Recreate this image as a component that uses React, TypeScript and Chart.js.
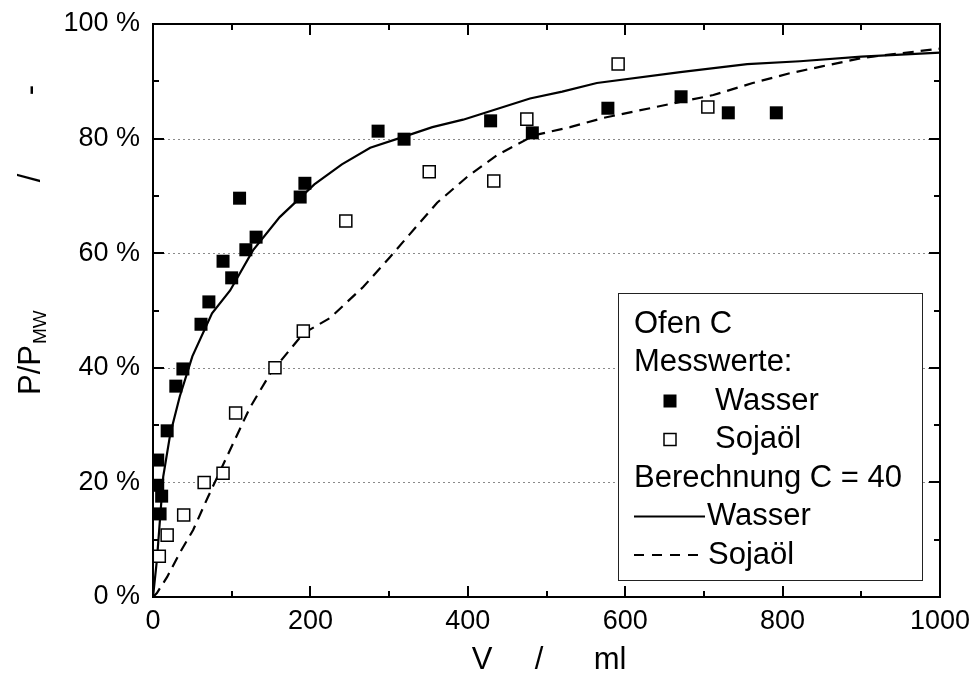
import React, { useEffect, useRef } from "react";
import { Chart, registerables } from "chart.js";

Chart.register(...registerables);

// ---- data ----
const wasserV = [6, 6, 9, 11, 18, 29, 38, 61, 71, 89, 100, 110, 118, 131, 187, 193, 286, 319, 429, 482, 578, 671, 731, 792];
const wasserP = [23.9, 19.5, 14.5, 17.6, 29, 36.8, 39.8, 47.6, 51.5, 58.6, 55.7, 69.6, 60.6, 62.8, 69.8, 72.2, 81.3, 79.9, 83.1, 81, 85.3, 87.3, 84.5, 84.5];

const sojaV = [8, 18, 39, 65, 89, 105, 155, 191, 245, 351, 433, 475, 591, 705];
const sojaP = [7.1, 10.8, 14.3, 20, 21.6, 32.1, 40, 46.4, 65.6, 74.2, 72.6, 83.4, 93, 85.5];

const calcWasserV = [0, 5, 13, 22, 34, 50, 75, 98, 127, 161, 205, 240, 276, 318, 355, 394, 415, 479, 520, 564, 670, 755, 822, 900, 1000];
const calcWasserP = [0, 6.5, 21, 28.5, 35, 42, 49.5, 53.5, 60.5, 66.3, 72, 75.5, 78.4, 80.3, 82, 83.3, 84.2, 87.0, 88.2, 89.7, 91.6, 93, 93.5, 94.3, 95];

const calcSojaV = [0, 5, 18, 34, 51, 70, 97, 123, 149, 191, 225, 267, 301, 323, 361, 399, 437, 485, 530, 572, 670, 712, 762, 809, 850, 902, 1000];
const calcSojaP = [0, 0.7, 3.5, 7.7, 11.7, 17.5, 25.4, 33, 39, 46, 48.7, 54.1, 59.3, 62.8, 68.8, 73.3, 77.1, 80.6, 82, 83.6, 86.4, 87.6, 89.7, 91.4, 92.6, 94.1, 95.7];

const gridLevels = [20, 40, 60, 80];
const legendTitle = "Ofen C";
const legendMeasured = "Messwerte:";
const legendCalc = "Berechnung C = 40";
const seriesWasser = "Wasser";
const seriesSoja = "Sojaöl";
const xTitleParts = ["V", "/", "ml"];

const FONT = "'Liberation Sans', Arial, Helvetica, sans-serif";
const DASH = [11, 7];

const pts = (xs: number[], ys: number[]) => xs.map((x, i) => ({ x, y: ys[i] }));

const decor = {
  id: "decor",
  beforeDatasetsDraw(chart: any) {
    const { ctx, chartArea: a, scales } = chart;
    const y = scales.y;
    ctx.save();
    ctx.strokeStyle = "#8a8a8a";
    ctx.lineWidth = 1;
    ctx.setLineDash([2, 3]);
    for (const v of gridLevels) {
      const py = Math.round(y.getPixelForValue(v)) + 0.5;
      ctx.beginPath();
      ctx.moveTo(a.left, py);
      ctx.lineTo(a.right, py);
      ctx.stroke();
    }
    ctx.restore();
  },
  afterDatasetsDraw(chart: any) {
    const { ctx, chartArea: a, scales } = chart;
    const x = scales.x;
    const y = scales.y;
    ctx.save();
    // frame
    ctx.strokeStyle = "#000";
    ctx.lineWidth = 2;
    ctx.setLineDash([]);
    ctx.strokeRect(a.left, a.top, a.right - a.left, a.bottom - a.top);
    // inward ticks
    for (let v = 0; v <= 1000; v += 100) {
      const major = v % 200 === 0;
      const len = major ? 11 : 6;
      const px = Math.round(x.getPixelForValue(v));
      ctx.beginPath();
      ctx.moveTo(px, a.bottom);
      ctx.lineTo(px, a.bottom - len);
      ctx.moveTo(px, a.top);
      ctx.lineTo(px, a.top + len);
      ctx.stroke();
    }
    for (let v = 0; v <= 100; v += 10) {
      const major = v % 20 === 0;
      const len = major ? 11 : 6;
      const py = Math.round(y.getPixelForValue(v));
      ctx.beginPath();
      ctx.moveTo(a.left, py);
      ctx.lineTo(a.left + len, py);
      ctx.moveTo(a.right, py);
      ctx.lineTo(a.right - len, py);
      ctx.stroke();
    }

    // legend box
    const bl = a.right - 322;
    const br = a.right - 18;
    const bt = a.top + 269;
    const bb = a.bottom - 17;
    ctx.fillStyle = "#fff";
    ctx.fillRect(bl, bt, br - bl, bb - bt);
    ctx.strokeStyle = "#222";
    ctx.lineWidth = 1;
    ctx.strokeRect(bl + 0.5, bt + 0.5, br - bl, bb - bt);

    ctx.fillStyle = "#000";
    ctx.font = `31px ${FONT}`;
    ctx.textBaseline = "middle";
    ctx.textAlign = "left";
    const row = (i: number) => bt + 31 + i * 38.5;
    ctx.fillText(legendTitle, bl + 16, row(0));
    ctx.fillText(legendMeasured, bl + 16, row(1));
    // filled marker
    ctx.fillRect(bl + 52 - 6.5, row(2) - 6.5, 13, 13);
    ctx.fillText(seriesWasser, bl + 97, row(2));
    // open marker
    ctx.fillStyle = "#fff";
    ctx.fillRect(bl + 52 - 6, row(3) - 6, 12, 12);
    ctx.strokeStyle = "#000";
    ctx.lineWidth = 1.5;
    ctx.strokeRect(bl + 52 - 6, row(3) - 6, 12, 12);
    ctx.fillStyle = "#000";
    ctx.fillText(seriesSoja, bl + 97, row(3));
    ctx.fillText(legendCalc, bl + 16, row(4));
    // line samples
    ctx.lineWidth = 2;
    ctx.beginPath();
    ctx.moveTo(bl + 16, row(5));
    ctx.lineTo(bl + 87, row(5));
    ctx.stroke();
    ctx.fillText(seriesWasser, bl + 89, row(5));
    ctx.setLineDash([10, 8]);
    ctx.beginPath();
    ctx.moveTo(bl + 16, row(6));
    ctx.lineTo(bl + 87, row(6));
    ctx.stroke();
    ctx.setLineDash([]);
    ctx.fillText(seriesSoja, bl + 90, row(6));

    // x title
    ctx.font = `31px ${FONT}`;
    ctx.textAlign = "center";
    ctx.textBaseline = "middle";
    const ty = a.bottom + 63;
    ctx.fillText(xTitleParts[0], a.left + 329, ty);
    ctx.fillText(xTitleParts[1], a.left + 386, ty);
    ctx.fillText(xTitleParts[2], a.left + 457, ty);

    // y title (rotated)
    ctx.save();
    ctx.translate(31, a.bottom - 202);
    ctx.rotate(-Math.PI / 2);
    ctx.textAlign = "left";
    ctx.textBaseline = "middle";
    ctx.font = `31px ${FONT}`;
    ctx.fillText("P/P", 0, 0);
    const w = ctx.measureText("P/P").width;
    ctx.font = `19px ${FONT}`;
    ctx.fillText("MW", w + 1, 10);
    ctx.font = `31px ${FONT}`;
    ctx.textAlign = "center";
    ctx.fillText("/", 217, 0);
    ctx.fillText("-", 305, 0);
    ctx.restore();

    ctx.restore();
  },
};

export default function App() {
  const ref = useRef<HTMLCanvasElement | null>(null);
  useEffect(() => {
    if (!ref.current) return;
    const chart = new Chart(ref.current, {
      type: "scatter",
      data: {
        datasets: [
          {
            label: "Wasser (Messwerte)",
            data: pts(wasserV, wasserP),
            pointStyle: "rect",
            pointRadius: 9.2,
            pointBackgroundColor: "#000",
            pointBorderColor: "#000",
            pointBorderWidth: 0,
            showLine: false,
            order: 1,
          },
          {
            label: "Sojaöl (Messwerte)",
            data: pts(sojaV, sojaP),
            pointStyle: "rect",
            pointRadius: 8.5,
            pointBackgroundColor: "#fff",
            pointBorderColor: "#000",
            pointBorderWidth: 1.5,
            showLine: false,
            order: 1,
          },
          {
            label: "Wasser (Berechnung)",
            data: pts(calcWasserV, calcWasserP),
            showLine: true,
            borderColor: "#000",
            borderWidth: 2.2,
            pointRadius: 0,
            tension: 0,
            fill: false,
            order: 2,
          },
          {
            label: "Sojaöl (Berechnung)",
            data: pts(calcSojaV, calcSojaP),
            showLine: true,
            borderColor: "#000",
            borderWidth: 2.2,
            borderDash: DASH,
            pointRadius: 0,
            tension: 0,
            fill: false,
            order: 2,
          },
        ],
      },
      options: {
        animation: false,
        responsive: false,
        maintainAspectRatio: false,
        events: [],
        layout: { padding: { top: 24, right: 34, left: 0, bottom: 0 } },
        plugins: {
          legend: { display: false },
          tooltip: { enabled: false },
          title: { display: false },
        },
        scales: {
          x: {
            type: "linear",
            min: 0,
            max: 1000,
            grid: { display: false, drawTicks: false },
            border: { display: false },
            ticks: {
              stepSize: 200,
              padding: 8,
              color: "#000",
              font: { family: FONT, size: 27 },
              maxRotation: 0,
              callback: (v: any) => String(v),
            },
            afterFit: (s: any) => {
              s.height = 87;
              s.paddingLeft = 0;
              s.paddingRight = 0;
            },
          },
          y: {
            type: "linear",
            min: 0,
            max: 100,
            grid: { display: false, drawTicks: false },
            border: { display: false },
            ticks: {
              stepSize: 20,
              padding: 13,
              color: "#000",
              font: { family: FONT, size: 27 },
              callback: (v: any) => `${v} %`,
            },
            afterFit: (s: any) => {
              s.width = 153;
              s.paddingTop = 0;
              s.paddingBottom = 0;
            },
          },
        },
      },
      plugins: [decor],
    } as any);
    return () => chart.destroy();
  }, []);
  return (
    <canvas
      ref={ref}
      width={974}
      height={684}
      style={{ position: "absolute", left: 0, top: 0, display: "block" }}
    />
  );
}
